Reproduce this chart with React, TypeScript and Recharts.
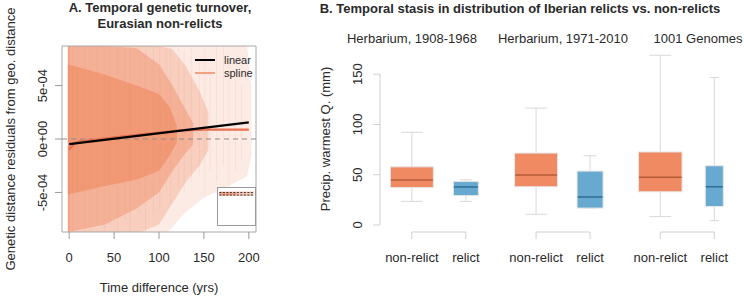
import React from 'react';
import {
  ComposedChart,
  Area,
  Line,
  Bar,
  Cell,
  XAxis,
  YAxis,
  ReferenceLine,
  ReferenceArea,
} from 'recharts';

const FONT = '"Liberation Sans", Arial, Helvetica, sans-serif';
const SALMON = '#EF8A62';
const BLUE = '#67A9CF';
const TEXT = '#2a2a2a';

// ---------------- Panel A data ----------------
const TIME_TICKS = [0, 50, 100, 150, 200];
const RESID_TICKS = [-5e-4, 0, 5e-4];

// density envelopes of the residual cloud (time, low, high)
const CLOUD_FAINT = [
  { t: -1.5, lo: -8.7e-4, hi: 8.7e-4 },
  { t: 110, lo: -8.7e-4, hi: 8.7e-4 },
  { t: 130, lo: -6.8e-4, hi: 8.7e-4 },
  { t: 150, lo: -5.5e-4, hi: 8.7e-4 },
  { t: 175, lo: -4.5e-4, hi: 8.7e-4 },
  { t: 198, lo: -3.5e-4, hi: 8.7e-4 },
  { t: 203, lo: -1.5e-4, hi: 5.0e-4 },
];
const CLOUD_LIGHT = [
  { t: -1.5, lo: -8.7e-4, hi: 8.7e-4 },
  { t: 80, lo: -8.7e-4, hi: 8.7e-4 },
  { t: 100, lo: -8.0e-4, hi: 8.7e-4 },
  { t: 115, lo: -6.0e-4, hi: 8.4e-4 },
  { t: 130, lo: -4.0e-4, hi: 6.8e-4 },
  { t: 145, lo: -2.5e-4, hi: 4.5e-4 },
  { t: 155, lo: -1.0e-4, hi: 2.5e-4 },
];
const CLOUD_MEDIUM = [
  { t: -1.5, lo: -8.7e-4, hi: 8.7e-4 },
  { t: 40, lo: -8.0e-4, hi: 8.7e-4 },
  { t: 75, lo: -6.5e-4, hi: 8.5e-4 },
  { t: 100, lo: -5.0e-4, hi: 7.0e-4 },
  { t: 115, lo: -3.0e-4, hi: 5.0e-4 },
  { t: 128, lo: -1.5e-4, hi: 3.0e-4 },
  { t: 138, lo: -0.5e-4, hi: 1.5e-4 },
];
const CLOUD_CORE = [
  { t: -1.5, lo: -5.2e-4, hi: 7.0e-4 },
  { t: 40, lo: -4.4e-4, hi: 6.0e-4 },
  { t: 75, lo: -3.8e-4, hi: 5.0e-4 },
  { t: 100, lo: -3.0e-4, hi: 4.2e-4 },
  { t: 112, lo: -1.5e-4, hi: 3.0e-4 },
  { t: 120, lo: -0.3e-4, hi: 1.2e-4 },
];
// vertical streaks of points at individual time differences
const STREAKS = [
  { t: 0, lo: -8.7e-4, hi: 8.7e-4 },
  { t: 4, lo: -8.7e-4, hi: 8.7e-4 },
  { t: 9, lo: -8.7e-4, hi: 8.7e-4 },
  { t: 17, lo: -8.7e-4, hi: 8.7e-4 },
  { t: 23, lo: -8.7e-4, hi: 8.7e-4 },
  { t: 31, lo: -8.0e-4, hi: 8.7e-4 },
  { t: 39, lo: -8.7e-4, hi: 8.7e-4 },
  { t: 45, lo: -8.0e-4, hi: 8.7e-4 },
  { t: 54, lo: -8.7e-4, hi: 8.7e-4 },
  { t: 62, lo: -7.5e-4, hi: 8.7e-4 },
  { t: 68, lo: -8.7e-4, hi: 8.7e-4 },
  { t: 78, lo: -7.0e-4, hi: 8.7e-4 },
  { t: 85, lo: -8.7e-4, hi: 8.7e-4 },
  { t: 94, lo: -7.0e-4, hi: 8.7e-4 },
  { t: 101, lo: -6.5e-4, hi: 8.7e-4 },
  { t: 108, lo: -5.0e-4, hi: 8.7e-4 },
  { t: 113, lo: -6.0e-4, hi: 8.7e-4 },
  { t: 122, lo: -4.5e-4, hi: 8.7e-4 },
  { t: 128, lo: -5.0e-4, hi: 8.2e-4 },
  { t: 136, lo: -4.0e-4, hi: 8.7e-4 },
  { t: 145, lo: -3.5e-4, hi: 7.5e-4 },
  { t: 151, lo: -5.5e-4, hi: 8.7e-4 },
  { t: 157, lo: -3.0e-4, hi: 6.5e-4 },
  { t: 164, lo: -4.0e-4, hi: 8.7e-4 },
  { t: 172, lo: -2.5e-4, hi: 8.7e-4 },
  { t: 178, lo: -5.0e-4, hi: 8.0e-4 },
  { t: 185, lo: -3.0e-4, hi: 6.5e-4 },
  { t: 192, lo: -2.0e-4, hi: 5.0e-4 },
];
const LINEAR_FIT = [
  { t: 0, r: -0.47e-4 },
  { t: 200, r: 1.56e-4 },
];
const SPLINE_FIT = [
  { t: 0, r: -1.0e-4 },
  { t: 3, r: -0.7e-4 },
  { t: 7, r: -0.35e-4 },
  { t: 12, r: -0.2e-4 },
  { t: 20, r: -0.15e-4 },
  { t: 40, r: 0.05e-4 },
  { t: 70, r: 0.35e-4 },
  { t: 100, r: 0.6e-4 },
  { t: 130, r: 0.8e-4 },
  { t: 150, r: 0.88e-4 },
  { t: 200, r: 0.88e-4 },
];
// inset: same cloud on a wide residual scale
const INSET_BAND = [
  { t: 0, lo: -8.7e-4, hi: 8.7e-4 },
  { t: 200, lo: -8.7e-4, hi: 8.7e-4 },
];
const INSET_DENSE = [
  { t: 0, lo: -6e-4, hi: 7e-4 },
  { t: 100, lo: -4e-4, hi: 5e-4 },
];
const INSET_UPPER = [
  { t: 0, r: 4.5e-4 },
  { t: 200, r: 4.5e-4 },
];
const INSET_LOWER = [
  { t: 0, r: -5e-4 },
  { t: 200, r: -5e-4 },
];

// ---------------- Panel B data ----------------
const GROUPS = ['Herbarium, 1908-1968', 'Herbarium, 1971-2010', '1001 Genomes'];
const KINDS = ['non-relict', 'relict'];
const PRECIP_TICKS = [0, 50, 100, 150];
const LOWER_WHISKER = [23.5, 23.5, 10.6, 16.8, 8.3, 4.3];
const Q1 = [37.2, 29.2, 38.0, 16.8, 33.0, 18.4];
const MEDIAN = [44.6, 37.8, 49.8, 27.8, 47.4, 38.0];
const Q3 = [57.8, 43.2, 71.5, 53.6, 72.6, 58.9];
const UPPER_WHISKER = [92.2, 44.8, 116.2, 68.8, 168.8, 146.7];

// layout constants (not data)
const BOX_WIDTHS = [43, 25, 43, 26, 43.5, 18];
const GROUP_STEP = 2.3;
const SUBTITLE_CENTERS = [412, 563, 698];

const BOX_TABLE = GROUPS.flatMap((g, gi) =>
  KINDS.map((k, ki) => {
    const i = gi * 2 + ki;
    return {
      i,
      group: g,
      kind: k,
      pos: 1 + gi * GROUP_STEP + ki,
      low: LOWER_WHISKER[i],
      q1: Q1[i],
      med: MEDIAN[i],
      q3: Q3[i],
      high: UPPER_WHISKER[i],
    };
  })
);
const BOX_POSITIONS = BOX_TABLE.map((d) => d.pos);

const fmtSci = (v: number) => {
  if (v === 0) return '0e+00';
  const e = Math.floor(Math.log10(Math.abs(v)) + 1e-9);
  const m = Math.round(v / Math.pow(10, e));
  return `${m}e${e < 0 ? '-' : '+'}${String(Math.abs(e)).padStart(2, '0')}`;
};

const AXTick = (props: any) => {
  const { x, y, payload } = props;
  return (
    <text x={x} y={y + 16} textAnchor="middle" dominantBaseline="central" fontSize={13} fill={TEXT} fontFamily={FONT}>
      {payload.value}
    </text>
  );
};
const AYTick = (props: any) => {
  const { x, y, payload } = props;
  return (
    <text
      transform={`translate(${x - 11},${y}) rotate(-90)`}
      textAnchor="middle"
      dominantBaseline="central"
      fontSize={13}
      fill={TEXT}
      fontFamily={FONT}
    >
      {fmtSci(payload.value)}
    </text>
  );
};
const BXTick = (props: any) => {
  const { x, y, payload } = props;
  const row = BOX_TABLE.find((d) => Math.abs(d.pos - payload.value) < 1e-6);
  return (
    <text x={x} y={y + 16} textAnchor="middle" dominantBaseline="central" fontSize={13} fill={TEXT} fontFamily={FONT}>
      {row ? row.kind : ''}
    </text>
  );
};
const BYTick = (props: any) => {
  const { x, y, payload } = props;
  return (
    <text
      transform={`translate(${x - 14},${y}) rotate(-90)`}
      textAnchor="middle"
      dominantBaseline="central"
      fontSize={13}
      fill={TEXT}
      fontFamily={FONT}
    >
      {payload.value}
    </text>
  );
};
const RotatedTitle = (props: any) => {
  const { viewBox, value, dx } = props;
  const vb = viewBox || { x: 0, y: 0, width: 0, height: 0 };
  return (
    <text
      transform={`translate(${vb.x + dx},${vb.y + vb.height / 2}) rotate(-90)`}
      textAnchor="middle"
      dominantBaseline="central"
      fontSize={13}
      fill={TEXT}
      fontFamily={FONT}
    >
      {value}
    </text>
  );
};

const WHISK = '#d8d8d8';
const BoxShape = (props: any) => {
  const { x, y, width, height, payload } = props;
  if (!payload) return null;
  const cx = x + width / 2;
  const { low, q1, med, q3, high, kind, i } = payload;
  const py = (v: number) => y + ((high - v) / (high - low)) * height;
  const w = BOX_WIDTHS[i];
  const cap = w / 2;
  const fill = kind === 'relict' ? BLUE : SALMON;
  const medColor = kind === 'relict' ? '#2F6E99' : '#B55A39';
  return (
    <g>
      <line x1={cx} x2={cx} y1={py(high)} y2={py(q3)} stroke={WHISK} strokeWidth={1} />
      <line x1={cx} x2={cx} y1={py(q1)} y2={py(low)} stroke={WHISK} strokeWidth={1} />
      <line x1={cx - cap / 2} x2={cx + cap / 2} y1={py(high)} y2={py(high)} stroke={WHISK} strokeWidth={1} />
      <line x1={cx - cap / 2} x2={cx + cap / 2} y1={py(low)} y2={py(low)} stroke={WHISK} strokeWidth={1} />
      <rect x={cx - w / 2} y={py(q3)} width={w} height={py(q1) - py(q3)} fill={fill} stroke="#e6e6e6" strokeWidth={1} />
      <line x1={cx - w / 2 + 0.5} x2={cx + w / 2 - 0.5} y1={py(med)} y2={py(med)} stroke={medColor} strokeWidth={1.5} />
    </g>
  );
};

const rangeKey = (d: any) => [d.lo, d.hi];
const B_YMIN = -7;
const B_XMIN = 0.41;

export default function App() {
  return (
    <div
      style={{
        position: 'absolute',
        left: 0,
        top: 0,
        width: 744,
        height: 297,
        background: '#fff',
        fontFamily: FONT,
        color: TEXT,
        overflow: 'hidden',
      }}
    >
      {/* Titles */}
      <div style={{ position: 'absolute', left: 40, width: 240, top: 0, lineHeight: '16px', fontSize: 13, fontWeight: 700, textAlign: 'center' }}>
        A. Temporal genetic turnover,
      </div>
      <div style={{ position: 'absolute', left: 40, width: 240, top: 16, lineHeight: '16px', fontSize: 13, fontWeight: 700, textAlign: 'center' }}>
        Eurasian non-relicts
      </div>
      <div style={{ position: 'absolute', left: 290, width: 460, top: 1, lineHeight: '16px', fontSize: 13, fontWeight: 700, textAlign: 'center' }}>
        B. Temporal stasis in distribution of Iberian relicts vs. non-relicts
      </div>
      {GROUPS.map((g, gi) => (
        <div
          key={g}
          style={{
            position: 'absolute',
            left: SUBTITLE_CENTERS[gi] - 90,
            width: 180,
            top: 31,
            lineHeight: '16px',
            fontSize: 13,
            textAlign: 'center',
          }}
        >
          {g}
        </div>
      ))}

      {/* Panel A */}
      <div style={{ position: 'absolute', left: 0, top: 0 }}>
        <ComposedChart width={270} height={297} data={STREAKS} margin={{ top: 46, right: 14, bottom: 0, left: 0 }}>
          <XAxis
            dataKey="t"
            type="number"
            domain={[-8, 208]}
            ticks={TIME_TICKS}
            interval={0}
            allowDataOverflow
            axisLine={false}
            tickSize={7}
            tickLine={{ stroke: '#9a9a9a' }}
            tick={<AXTick />}
            height={65}
            label={{ value: 'Time difference (yrs)', position: 'insideBottom', offset: 5, fill: TEXT, fontSize: 13, fontFamily: FONT }}
          />
          <YAxis
            type="number"
            domain={[-8.7e-4, 8.7e-4]}
            ticks={RESID_TICKS}
            interval={0}
            allowDataOverflow
            axisLine={false}
            tickSize={7}
            tickLine={{ stroke: '#9a9a9a' }}
            tick={<AYTick />}
            width={62}
            label={<RotatedTitle value="Genetic distance residuals from geo. distance" dx={10} />}
          />
          <Area data={CLOUD_FAINT} dataKey={rangeKey} type="linear" stroke="none" fill={SALMON} fillOpacity={0.17} isAnimationActive={false} />
          <Area data={CLOUD_LIGHT} dataKey={rangeKey} type="linear" stroke="none" fill={SALMON} fillOpacity={0.3} isAnimationActive={false} />
          <Area data={CLOUD_MEDIUM} dataKey={rangeKey} type="linear" stroke="none" fill={SALMON} fillOpacity={0.42} isAnimationActive={false} />
          <Area data={CLOUD_CORE} dataKey={rangeKey} type="linear" stroke="none" fill={SALMON} fillOpacity={0.65} isAnimationActive={false} />
          <Bar dataKey={rangeKey} barSize={3} fill={SALMON} isAnimationActive={false}>
            {STREAKS.map((s) => (
              <Cell key={s.t} fillOpacity={s.t === 0 ? 0.75 : 0.14} />
            ))}
          </Bar>
          <ReferenceLine y={0} stroke="#8c8c8c" strokeDasharray="5 4" strokeWidth={1.2} />
          <Line data={SPLINE_FIT} dataKey="r" type="monotone" stroke="#E9704E" strokeWidth={2.2} dot={false} isAnimationActive={false} />
          <Line data={LINEAR_FIT} dataKey="r" type="linear" stroke="#000" strokeWidth={2.3} dot={false} isAnimationActive={false} />
          <ReferenceArea x1={-8} x2={208} y1={-8.7e-4} y2={8.7e-4} fill="none" stroke="#a8a8a8" strokeWidth={1} ifOverflow="visible" />
        </ComposedChart>
      </div>

      {/* Legend A */}
      <div style={{ position: 'absolute', left: 195, top: 58.5, width: 20, height: 2.5, background: '#000' }} />
      <div style={{ position: 'absolute', left: 224, top: 52, lineHeight: '16px', fontSize: 11 }}>linear</div>
      <div style={{ position: 'absolute', left: 195, top: 71.5, width: 20, height: 2.5, background: '#F2A283' }} />
      <div style={{ position: 'absolute', left: 224, top: 65, lineHeight: '16px', fontSize: 11 }}>spline</div>

      {/* Inset A */}
      <div
        style={{
          position: 'absolute',
          left: 217,
          top: 187,
          width: 39,
          height: 39,
          boxSizing: 'border-box',
          border: '1px solid #9a9a9a',
          background: '#fff',
        }}
      >
        <ComposedChart width={37} height={37} margin={{ top: 0, right: 0, bottom: 0, left: 0 }}>
          <XAxis dataKey="t" type="number" domain={[-8, 208]} hide allowDataOverflow />
          <YAxis type="number" domain={[-0.012, 0.0022]} hide allowDataOverflow />
          <Area data={INSET_BAND} dataKey={rangeKey} type="linear" stroke="none" fill={SALMON} fillOpacity={0.45} isAnimationActive={false} />
          <Area data={INSET_DENSE} dataKey={rangeKey} type="linear" stroke="none" fill={SALMON} fillOpacity={0.6} isAnimationActive={false} />
          <Line data={INSET_UPPER} dataKey="r" stroke="#222" strokeWidth={0.9} strokeDasharray="2 1.5" dot={false} isAnimationActive={false} />
          <Line data={INSET_LOWER} dataKey="r" stroke="#222" strokeWidth={0.9} strokeDasharray="2 1.5" dot={false} isAnimationActive={false} />
        </ComposedChart>
      </div>

      {/* Panel B */}
      <div style={{ position: 'absolute', left: 300, top: 0 }}>
        <ComposedChart width={444} height={297} data={BOX_TABLE} margin={{ top: 46, right: 0, bottom: 0, left: 0 }}>
          <XAxis
            dataKey="pos"
            type="number"
            domain={[B_XMIN, 7.15]}
            ticks={BOX_POSITIONS}
            interval={0}
            allowDataOverflow
            axisLine={false}
            tickSize={7}
            tickLine={{ stroke: '#cfcfcf' }}
            tick={<BXTick />}
            height={65}
          />
          <YAxis
            type="number"
            domain={[B_YMIN, 178]}
            ticks={PRECIP_TICKS}
            interval={0}
            allowDataOverflow
            axisLine={false}
            tickSize={7}
            tickLine={{ stroke: '#cfcfcf' }}
            tick={<BYTick />}
            width={80}
            label={<RotatedTitle value="Precip. warmest Q. (mm)" dx={25} />}
          />
          <ReferenceLine segment={[{ x: B_XMIN, y: 0 }, { x: B_XMIN, y: 150 }]} stroke="#cfcfcf" strokeWidth={1} ifOverflow="visible" />
          {GROUPS.map((g, gi) => (
            <ReferenceLine
              key={g}
              segment={[
                { x: BOX_POSITIONS[gi * 2], y: B_YMIN },
                { x: BOX_POSITIONS[gi * 2 + 1], y: B_YMIN },
              ]}
              stroke="#cfcfcf"
              strokeWidth={1}
              ifOverflow="visible"
            />
          ))}
          <Bar dataKey={(d: any) => [d.low, d.high]} barSize={40} shape={<BoxShape />} isAnimationActive={false} />
        </ComposedChart>
      </div>
    </div>
  );
}
